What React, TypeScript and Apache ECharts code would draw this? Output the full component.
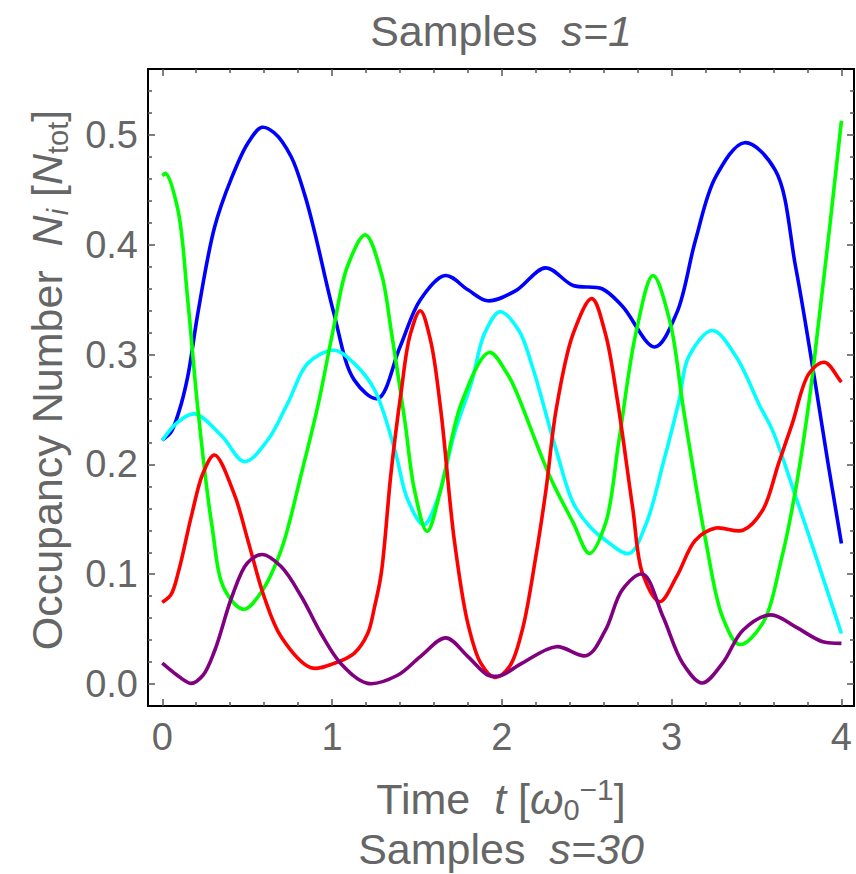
import React, { useEffect, useRef } from "react";
import * as echarts from "echarts";

// ---- axis ticks ----
const xMajorTicks = [0, 1, 2, 3, 4];
const xMinorTicks = [0.2, 0.4, 0.6, 0.8, 1.2, 1.4, 1.6, 1.8, 2.2, 2.4, 2.6, 2.8, 3.2, 3.4, 3.6, 3.8];
const yMajorTicks = [0, 0.1, 0.2, 0.3, 0.4, 0.5];
const yMinorTicks = [0.02, 0.04, 0.06, 0.08, 0.12, 0.14, 0.16, 0.18, 0.22, 0.24, 0.26, 0.28, 0.32, 0.34, 0.36, 0.38, 0.42, 0.44, 0.46, 0.48, 0.52, 0.54];

// ---- series values [t, N] ----
const blueSeries = [[0,0.222],[0.05,0.229],[0.1,0.249],[0.15,0.28],[0.21,0.338],[0.308,0.416],[0.406,0.46],[0.504,0.4925],[0.587,0.507],[0.66,0.502],[0.76,0.48],[0.84,0.445],[0.9,0.41],[1.01,0.338],[1.13,0.277],[1.27,0.26],[1.4,0.307],[1.52,0.35],[1.667,0.372],[1.8,0.359],[1.916,0.349],[2.08,0.358],[2.257,0.379],[2.42,0.363],[2.59,0.36],[2.71,0.344],[2.9,0.307],[3.03,0.338],[3.14,0.404],[3.26,0.462],[3.43,0.493],[3.61,0.468],[3.73,0.38],[3.83,0.289],[3.92,0.202],[4.0,0.128]];
const cyanSeries = [[0,0.222],[0.08,0.237],[0.19,0.246],[0.35,0.226],[0.485,0.2025],[0.62,0.222],[0.74,0.256],[0.857,0.292],[1.014,0.304],[1.13,0.292],[1.25,0.268],[1.37,0.213],[1.445,0.168],[1.54,0.145],[1.62,0.168],[1.72,0.228],[1.82,0.274],[1.9,0.32],[1.99,0.339],[2.1,0.322],[2.18,0.289],[2.32,0.213],[2.42,0.165],[2.52,0.143],[2.61,0.131],[2.75,0.119],[2.85,0.146],[2.95,0.201],[3.045,0.259],[3.1,0.298],[3.24,0.322],[3.38,0.298],[3.52,0.253],[3.594,0.231],[3.73,0.171],[3.85,0.116],[4.0,0.046]];
const greenSeries = [[0,0.463],[0.02,0.465],[0.092,0.432],[0.15,0.35],[0.21,0.25],[0.29,0.147],[0.367,0.086],[0.48,0.068],[0.58,0.083],[0.7,0.122],[0.82,0.192],[0.916,0.253],[1.01,0.325],[1.09,0.38],[1.196,0.409],[1.29,0.374],[1.35,0.32],[1.43,0.238],[1.485,0.177],[1.56,0.139],[1.64,0.177],[1.76,0.255],[1.926,0.302],[2.03,0.283],[2.08,0.268],[2.28,0.19],[2.42,0.147],[2.516,0.119],[2.61,0.146],[2.69,0.222],[2.79,0.32],[2.89,0.372],[2.99,0.33],[3.07,0.25],[3.2,0.131],[3.3,0.061],[3.4,0.036],[3.535,0.055],[3.65,0.116],[3.73,0.177],[3.81,0.258],[3.86,0.322],[3.93,0.415],[4.0,0.513]];
const redSeries = [[0,0.0744],[0.05,0.081],[0.1,0.105],[0.17,0.152],[0.24,0.192],[0.308,0.2086],[0.426,0.172],[0.504,0.131],[0.6,0.0795],[0.7,0.043],[0.876,0.0149],[1.014,0.019],[1.13,0.028],[1.21,0.046],[1.25,0.07],[1.29,0.101],[1.347,0.192],[1.406,0.265],[1.46,0.318],[1.52,0.34],[1.58,0.313],[1.64,0.25],[1.72,0.131],[1.8,0.055],[1.876,0.019],[1.957,0.006],[2.045,0.016],[2.12,0.049],[2.2,0.116],[2.26,0.177],[2.32,0.25],[2.42,0.319],[2.53,0.351],[2.61,0.319],[2.68,0.259],[2.77,0.161],[2.83,0.1],[2.93,0.075],[3.03,0.098],[3.14,0.131],[3.26,0.142],[3.42,0.14],[3.535,0.158],[3.63,0.201],[3.71,0.237],[3.81,0.283],[3.9,0.293],[4.0,0.275]];
const purpleSeries = [[0,0.019],[0.08,0.009],[0.17,0.0006],[0.24,0.008],[0.31,0.031],[0.41,0.0795],[0.5,0.11],[0.59,0.118],[0.7,0.107],[0.82,0.0795],[0.935,0.046],[1.05,0.019],[1.21,0.0006],[1.386,0.008],[1.52,0.025],[1.67,0.042],[1.8,0.025],[1.92,0.008],[1.99,0.0076],[2.12,0.019],[2.32,0.034],[2.5,0.026],[2.61,0.049],[2.71,0.086],[2.83,0.1],[2.95,0.061],[3.065,0.019],[3.18,0.001],[3.3,0.019],[3.42,0.049],[3.585,0.063],[3.73,0.052],[3.89,0.0385],[4.0,0.037]];

const seriesList = [
  { name: "blue", color: "#0000ff", data: blueSeries },
  { name: "cyan", color: "#00ffff", data: cyanSeries },
  { name: "green", color: "#00ff00", data: greenSeries },
  { name: "red", color: "#ff0000", data: redSeries },
  { name: "purple", color: "#800080", data: purpleSeries },
];

const X_MIN = -0.084;
const X_MAX = 4.074;
const Y_MIN = -0.02;
const Y_MAX = 0.5601;

const FONT = '"Liberation Sans", Arial, Helvetica, sans-serif';
const TEXT_COLOR = "#666666";
const TICK_COLOR = "#555555";

// centripetal Catmull-Rom through the pixel positions of the data points -> SVG path
function smoothPath(pts: number[][]): string {
  const n = pts.length;
  if (n < 2) return "";
  const P = (i: number) => {
    if (i < 0) return [2 * pts[0][0] - pts[1][0], 2 * pts[0][1] - pts[1][1]];
    if (i >= n) return [2 * pts[n - 1][0] - pts[n - 2][0], 2 * pts[n - 1][1] - pts[n - 2][1]];
    return pts[i];
  };
  const dist = (a: number[], b: number[]) => Math.pow(Math.hypot(b[0] - a[0], b[1] - a[1]), 0.5) || 1e-6;
  let d = `M${pts[0][0]},${pts[0][1]}`;
  for (let i = 0; i < n - 1; i++) {
    const p0 = P(i - 1), p1 = P(i), p2 = P(i + 1), p3 = P(i + 2);
    const d1 = dist(p0, p1), d2 = dist(p1, p2), d3 = dist(p2, p3);
    const a1 = d1 * d1, a2 = d2 * d2, a3 = d3 * d3;
    const c1x = (a1 * p2[0] - a2 * p0[0] + (2 * a1 + 3 * d1 * d2 + a2) * p1[0]) / (3 * d1 * (d1 + d2));
    const c1y = (a1 * p2[1] - a2 * p0[1] + (2 * a1 + 3 * d1 * d2 + a2) * p1[1]) / (3 * d1 * (d1 + d2));
    const c2x = (a3 * p1[0] - a2 * p3[0] + (2 * a3 + 3 * d3 * d2 + a2) * p2[0]) / (3 * d3 * (d3 + d2));
    const c2y = (a3 * p1[1] - a2 * p3[1] + (2 * a3 + 3 * d3 * d2 + a2) * p2[1]) / (3 * d3 * (d3 + d2));
    d += ` C${c1x},${c1y} ${c2x},${c2y} ${p2[0]},${p2[1]}`;
  }
  return d;
}

function xAxisDef(position: string, values: number[], len: number, labels: boolean) {
  return {
    type: "value",
    position,
    min: X_MIN,
    max: X_MAX,
    axisLine: { show: false, onZero: false },
    splitLine: { show: false },
    axisTick: { show: true, inside: true, length: len, customValues: values, lineStyle: { color: TICK_COLOR, width: 1.5 } },
    axisLabel: labels
      ? { show: true, customValues: values, margin: 12, fontSize: 38, fontFamily: FONT, color: TEXT_COLOR, formatter: (v: number) => String(v) }
      : { show: false },
  };
}
function yAxisDef(position: string, values: number[], len: number, labels: boolean) {
  return {
    type: "value",
    position,
    min: Y_MIN,
    max: Y_MAX,
    axisLine: { show: false, onZero: false },
    splitLine: { show: false },
    axisTick: { show: true, inside: true, length: len, customValues: values, lineStyle: { color: TICK_COLOR, width: 1.5 } },
    axisLabel: labels
      ? { show: true, customValues: values, margin: 10, fontSize: 38, fontFamily: FONT, color: TEXT_COLOR, formatter: (v: number) => v.toFixed(1) }
      : { show: false },
  };
}

const mainFont = (size: number, italic = false) => `${italic ? "italic " : ""}${size}px ${FONT}`;

function richStyles() {
  return {
    it: { font: mainFont(43, true), fill: TEXT_COLOR, lineHeight: 50 },
    sub: { font: mainFont(29), fill: TEXT_COLOR, lineHeight: 22, verticalAlign: "bottom", textVerticalAlign: "bottom" },
    subi: { font: mainFont(29, true), fill: TEXT_COLOR, lineHeight: 22, verticalAlign: "bottom", textVerticalAlign: "bottom" },
    sup: { font: mainFont(30), fill: TEXT_COLOR, lineHeight: 22, verticalAlign: "top", textVerticalAlign: "top" },
  };
}

function textEl(x: number, y: number, text: string, rotation = 0) {
  return {
    type: "text",
    x,
    y,
    rotation,
    style: {
      text,
      font: mainFont(43),
      fill: TEXT_COLOR,
      lineHeight: 50,
      align: "center",
      verticalAlign: "middle",
      textAlign: "center",
      textVerticalAlign: "middle",
      rich: richStyles(),
    },
  };
}

export default function App() {
  const ref = useRef<HTMLDivElement>(null);
  useEffect(() => {
    if (!ref.current) return;
    const chart = echarts.init(ref.current, undefined, { renderer: "svg" });
    chart.setOption({
      animation: false,
      backgroundColor: "#ffffff",
      grid: { left: 148, top: 69, right: 2, bottom: 168, show: true, borderColor: "#000000", borderWidth: 2, backgroundColor: "transparent" },
      xAxis: [
        xAxisDef("bottom", xMajorTicks, 7, true),
        xAxisDef("bottom", xMinorTicks, 4, false),
        xAxisDef("top", xMajorTicks, 7, false),
        xAxisDef("top", xMinorTicks, 4, false),
      ],
      yAxis: [
        yAxisDef("left", yMajorTicks, 7, true),
        yAxisDef("left", yMinorTicks, 4, false),
        yAxisDef("right", yMajorTicks, 7, false),
        yAxisDef("right", yMinorTicks, 4, false),
      ],
      series: seriesList.map((s, k) => ({
        name: s.name,
        type: "custom",
        coordinateSystem: "cartesian2d",
        xAxisIndex: 0,
        yAxisIndex: 0,
        z: 2 + k,
        data: s.data,
        encode: { x: 0, y: 1 },
        renderItem: (params: any, api: any) => {
          if (params.dataIndex !== 0) return null;
          const px = s.data.map((d) => api.coord(d));
          return {
            type: "path",
            shape: { pathData: smoothPath(px) },
            style: { stroke: s.color, fill: "none", lineWidth: 3.6, lineJoin: "round", lineCap: "butt" },
          };
        },
      })),
      graphic: [
        textEl(501, 31, "Samples  {it|s=1}"),
        textEl(501, 799, "Time  {it|t} [{it|ω}{sub|0}{sup|−1}]"),
        textEl(501, 849, "Samples  {it|s=30}"),
        textEl(47, 380, "Occupancy Number  {it|N}{subi|i} [{it|N}{sub|tot}]", Math.PI / 2),
      ],
    });
    return () => chart.dispose();
  }, []);
  return <div ref={ref} style={{ width: 856, height: 874, position: "absolute", left: 0, top: 0 }} />;
}
